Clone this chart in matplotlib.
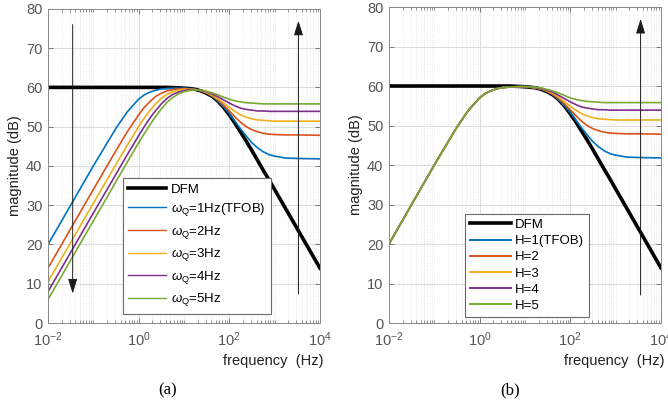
import numpy as np
import matplotlib
matplotlib.use('Agg')
import matplotlib.pyplot as plt
from matplotlib.ticker import LogLocator, NullFormatter, MultipleLocator

plt.rcParams['font.family'] = ['Liberation Sans', 'DejaVu Sans']
plt.rcParams['mathtext.fontset'] = 'custom'
plt.rcParams['mathtext.rm'] = 'Liberation Sans'
plt.rcParams['mathtext.it'] = 'Liberation Sans:italic'

####################
## Data
####################
freq = [0.01, 0.0316, 0.1, 0.316, 0.562, 1, 1.33, 1.78, 2.37, 3.16, 4.22, 5.62,
        7.5, 10, 13.3, 17.8, 23.7, 31.6, 42.2, 56.2, 75, 100, 133, 178, 237,
        316, 422, 562, 750, 1000, 1778, 3162, 10000]

dfm = [60, 60, 60, 60, 60, 60, 60, 60, 60, 60, 60, 59.95, 59.9, 59.8, 59.7,
       59.5, 59.1, 58.5, 57.7, 56.5, 54.9, 53.0, 50.9, 48.6, 46.3, 43.9, 41.4,
       38.9, 36.5, 34.0, 29.0, 24.0, 14.0]

## (a) varying omega_Q
wq1 = [20.0, 30.0, 40.0, 49.6, 53.8, 57.0, 58.1, 58.8, 59.3, 59.6, 59.7, 59.8,
       59.8, 59.8, 59.7, 59.5, 59.1, 58.6, 57.7, 56.5, 55.0, 53.3, 51.4, 49.4,
       47.6, 45.9, 44.6, 43.6, 42.9, 42.5, 42.0, 41.9, 41.8]
wq2 = [14.0, 24.0, 34.0, 43.9, 48.7, 53.0, 54.9, 56.4, 57.7, 58.5, 59.1, 59.4,
       59.6, 59.7, 59.6, 59.5, 59.1, 58.6, 57.8, 56.8, 55.4, 54.0, 52.5, 51.1,
       50.0, 49.2, 48.7, 48.3, 48.1, 48.0, 47.9, 47.9, 47.8]
wq3 = [10.5, 20.5, 30.5, 40.4, 45.3, 50.0, 52.2, 54.1, 55.8, 57.2, 58.2, 58.9,
       59.3, 59.5, 59.5, 59.4, 59.2, 58.7, 58.0, 57.1, 56.0, 54.9, 53.9, 53.0,
       52.4, 52.0, 51.7, 51.6, 51.5, 51.4, 51.4, 51.4, 51.4]
wq4 = [8.0, 18.0, 28.0, 37.9, 42.9, 47.7, 50.0, 52.2, 54.1, 55.8, 57.2, 58.2,
       58.8, 59.2, 59.4, 59.4, 59.2, 58.9, 58.3, 57.6, 56.8, 56.0, 55.3, 54.7,
       54.4, 54.2, 54.0, 54.0, 53.9, 53.9, 53.9, 53.9, 53.9]
wq5 = [6.0, 16.0, 26.0, 36.0, 41.0, 45.9, 48.2, 50.5, 52.6, 54.5, 56.2, 57.4,
       58.3, 58.9, 59.2, 59.4, 59.3, 59.0, 58.6, 58.1, 57.5, 57.0, 56.6, 56.3,
       56.1, 56.0, 55.9, 55.8, 55.8, 55.8, 55.8, 55.8, 55.8]
labels_a = [r'$\omega_{\mathrm{Q}}$=1Hz(TFOB)', r'$\omega_{\mathrm{Q}}$=2Hz',
            r'$\omega_{\mathrm{Q}}$=3Hz', r'$\omega_{\mathrm{Q}}$=4Hz',
            r'$\omega_{\mathrm{Q}}$=5Hz']

## (b) varying H
h1 = [20.0, 30.0, 40.0, 49.6, 53.8, 57.0, 58.1, 58.8, 59.3, 59.6, 59.7, 59.8,
      59.8, 59.8, 59.7, 59.5, 59.1, 58.6, 57.7, 56.5, 55.0, 53.3, 51.4, 49.4,
      47.6, 45.9, 44.6, 43.6, 42.9, 42.5, 42.0, 41.9, 41.8]
h2 = [20.0, 30.0, 40.0, 49.6, 53.8, 57.0, 58.1, 58.8, 59.3, 59.6, 59.7, 59.8,
      59.8, 59.8, 59.7, 59.5, 59.2, 58.6, 57.8, 56.8, 55.4, 54.0, 52.5, 51.1,
      50.0, 49.2, 48.7, 48.3, 48.1, 48.0, 47.9, 47.9, 47.8]
h3 = [20.0, 30.0, 40.0, 49.6, 53.8, 57.0, 58.1, 58.8, 59.3, 59.6, 59.7, 59.8,
      59.8, 59.8, 59.7, 59.5, 59.2, 58.8, 58.1, 57.1, 56.0, 54.9, 53.9, 53.0,
      52.4, 52.0, 51.7, 51.6, 51.5, 51.4, 51.4, 51.4, 51.4]
h4 = [20.0, 30.0, 40.0, 49.6, 53.8, 57.0, 58.1, 58.8, 59.3, 59.6, 59.7, 59.8,
      59.9, 59.8, 59.8, 59.6, 59.3, 58.9, 58.4, 57.6, 56.8, 56.0, 55.3, 54.7,
      54.4, 54.2, 54.0, 54.0, 53.9, 53.9, 53.9, 53.9, 53.9]
h5 = [20.0, 30.0, 40.0, 49.6, 53.8, 57.0, 58.1, 58.8, 59.3, 59.6, 59.7, 59.8,
      59.9, 59.9, 59.8, 59.7, 59.5, 59.1, 58.7, 58.2, 57.6, 57.0, 56.6, 56.3,
      56.1, 56.0, 55.9, 55.8, 55.8, 55.8, 55.8, 55.8, 55.8]
labels_b = ['H=1(TFOB)', 'H=2', 'H=3', 'H=4', 'H=5']

colors = ['#0072BD', '#D95319', '#EDB120', '#7E2F8E', '#77AC30']

## arrows: (x, y_from, y_to)
arrows_a = [(0.035, 76, 7.5), (3360, 7.4, 77)]
arrows_b = [(3570, 7.1, 77)]

####################
## Figure
####################
fig = plt.figure(figsize=(6.68, 4.08), dpi=100)
ax_a = fig.add_axes([0.0719, 0.2083, 0.407, 0.770])
ax_b = fig.add_axes([0.5823, 0.2083, 0.407, 0.7745])


def style_axes(ax):
    ax.set_xscale('log')
    ax.set_xlim(1e-2, 1e4)
    ax.set_ylim(0, 80)
    ax.xaxis.set_major_locator(LogLocator(base=100))
    ax.xaxis.set_minor_locator(LogLocator(base=10, subs=np.arange(1, 10), numticks=20))
    ax.xaxis.set_minor_formatter(NullFormatter())
    ax.yaxis.set_major_locator(MultipleLocator(10))
    ax.grid(True, which='major', color='#dcdcdc', lw=0.7)
    ax.grid(True, which='minor', axis='x', color='#e2e2e2', lw=0.6, ls=':')
    ax.set_axisbelow(True)
    for s in ax.spines.values():
        s.set_color('#8a8a8a')
        s.set_linewidth(0.7)
    ax.tick_params(which='both', direction='in', top=True, right=True,
                   colors='#6a6a6a', labelcolor='#555555', labelsize=10.5)
    ax.tick_params(which='major', length=3.5, width=0.6)
    ax.tick_params(which='minor', length=2, width=0.5)
    ax.tick_params(axis='x', pad=5)
    ax.tick_params(axis='y', pad=4)


def draw_arrows(ax, arrows):
    for x, y0, y1 in arrows:
        ax.annotate('', xy=(x, y1), xytext=(x, y0),
                    arrowprops=dict(arrowstyle='-|>,head_length=0.9,head_width=0.28',
                                    color='#1a1a1a', lw=0.7, shrinkA=0, shrinkB=0),
                    zorder=5)


## Panel (a)
style_axes(ax_a)
ax_a.plot(freq, dfm, color='black', lw=2.6, label='DFM')
for vals, c, lab in zip([wq1, wq2, wq3, wq4, wq5], colors, labels_a):
    ax_a.plot(freq, vals, color=c, lw=1.2, label=lab)
draw_arrows(ax_a, arrows_a)
leg = ax_a.legend(loc='lower left', bbox_to_anchor=(0.275, 0.03), fontsize=9.5,
                  handlelength=2.9, handletextpad=0.35, labelspacing=0.42,
                  borderpad=0.4, borderaxespad=0, fancybox=False, framealpha=1)
leg.get_frame().set_edgecolor('#6a6a6a')
leg.get_frame().set_linewidth(0.8)
for l in leg.get_lines()[1:]:
    l.set_linewidth(1.0)

## Panel (b)
style_axes(ax_b)
ax_b.plot(freq, dfm, color='black', lw=2.6, label='DFM')
for vals, c, lab in zip([h1, h2, h3, h4, h5], colors, labels_b):
    ax_b.plot(freq, vals, color=c, lw=1.2, label=lab)
draw_arrows(ax_b, arrows_b)
leg = ax_b.legend(loc='lower left', bbox_to_anchor=(0.28, 0.02), fontsize=9.5,
                  handlelength=3.1, handletextpad=0.35, labelspacing=0.3,
                  borderpad=0.35, borderaxespad=0, fancybox=False, framealpha=1)
leg.get_frame().set_edgecolor('#6a6a6a')
leg.get_frame().set_linewidth(0.8)
for l in leg.get_lines()[1:]:
    l.set_linewidth(1.4)

## labels and captions
for ax in [ax_a, ax_b]:
    ax.text(1.012, -0.12, 'frequency  (Hz)', transform=ax.transAxes,
            ha='right', va='center', fontsize=10.5, color='#222222')
    ax.set_ylabel('magnitude (dB)', fontsize=10.5, color='#222222', labelpad=3)

fig.text(168 / 668, 1 - 390 / 408, '(a)', ha='center', va='center',
         fontsize=12, family='Liberation Serif')
fig.text(510 / 668, 1 - 390 / 408, '(b)', ha='center', va='center',
         fontsize=12, family='Liberation Serif')

fig.savefig('out.png', dpi=100)
